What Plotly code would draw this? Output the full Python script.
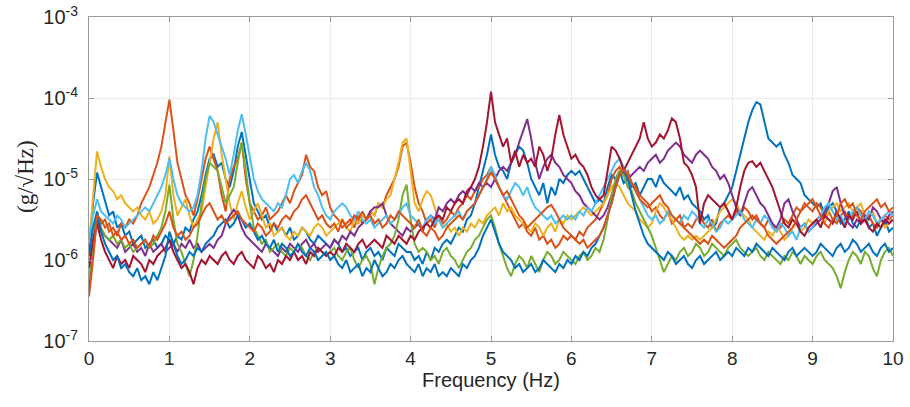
import plotly.graph_objects as go

# Sample spacing of the spectra (Hz); values are log10 of amplitude in g/sqrt(Hz)
FREQ_STEP = 0.05

blue_a_log10 = [
    -5.85, -5.3, -4.92, -5.1, -5.3, -5.45, -5.4, -5.6, -5.55, -5.7, -5.65, -5.8, -5.75, -5.7, -5.85, -5.8, -5.75, -5.85, -5.8, -5.7,
    -5.75, -5.8, -5.7, -5.75, -5.6, -5.65, -5.5, -5.4, -5.2, -4.95, -4.75, -4.7, -4.85, -4.8, -5.0, -5.1, -4.9, -4.6, -4.42, -4.7,
    -5.0, -5.3, -5.4, -5.5, -5.45, -5.6, -5.55, -5.65, -5.6, -5.7, -5.6, -5.75, -5.7, -5.6, -5.65, -5.75, -5.8, -5.7, -5.75, -5.8,
    -5.85, -5.75, -5.8, -5.9, -5.85, -5.95, -5.9, -5.85, -6.0, -5.9, -5.85, -5.95, -5.9, -6.0, -5.85, -5.9, -5.95, -5.8, -5.85, -5.9,
    -5.9, -6.0, -5.95, -6.05, -5.9, -6.0, -5.85, -5.9, -5.8, -5.75, -5.8, -5.7, -5.6, -5.65, -5.5, -5.45, -5.3, -5.1, -4.9, -4.7,
    -4.45, -4.7, -4.85, -4.9, -5.0, -4.8, -4.7, -4.6, -4.65, -4.8, -5.0, -5.1, -5.2, -5.05, -5.3, -5.1, -5.2, -5.0, -5.05, -4.95,
    -4.9, -4.95, -4.9, -5.0, -5.1, -5.2, -5.3, -5.25, -5.3, -5.1, -4.95, -5.0, -4.9, -5.05, -5.0, -5.1, -5.05, -5.2, -5.1, -5.0,
    -5.0, -5.1, -4.95, -5.05, -5.1, -5.15, -5.2, -5.1, -5.25, -5.2, -5.3, -5.35, -5.4, -5.5, -5.45, -5.6, -5.55, -5.35, -5.3, -5.2,
    -5.1, -4.9, -4.7, -4.5, -4.3, -4.15, -4.05, -4.08, -4.3, -4.5, -4.55, -4.6, -4.55, -4.7, -4.8, -4.95, -5.0, -5.05, -5.2, -5.25,
    -5.3, -5.35, -5.3, -5.45, -5.35, -5.3, -5.4, -5.55, -5.5, -5.4, -5.55, -5.6, -5.5, -5.45, -5.6, -5.55, -5.7, -5.6, -5.5, -5.65,
    -5.6,
]

orange_a_log10 = [
    -5.75, -5.6, -5.45, -5.55, -5.5, -5.65, -5.6, -5.7, -5.55, -5.6, -5.5, -5.55, -5.45, -5.3, -5.2, -5.1, -4.95, -4.8, -4.6, -4.3,
    -4.02, -4.4, -4.8, -5.0, -5.2, -5.3, -5.45, -5.25, -5.0, -4.75, -4.6, -4.75, -4.9, -5.2, -5.4, -5.0, -4.85, -4.75, -4.55, -5.0,
    -5.3, -5.4, -5.5, -5.45, -5.35, -5.5, -5.45, -5.4, -5.3, -5.2, -5.3, -5.15, -5.05, -4.95, -4.7, -4.85, -4.9, -5.1, -5.2, -5.15,
    -5.35, -5.45, -5.5, -5.6, -5.55, -5.5, -5.6, -5.45, -5.55, -5.5, -5.4, -5.45, -5.3, -5.35, -5.2, -5.1, -5.0, -4.85, -4.6, -4.55,
    -4.8, -5.1, -5.3, -5.4, -5.55, -5.5, -5.6, -5.45, -5.55, -5.5, -5.4, -5.45, -5.35, -5.3, -5.2, -5.25, -5.15, -5.1, -5.0, -4.95,
    -4.85, -5.0, -5.1, -5.2, -5.3, -5.4, -5.5, -5.6, -5.55, -5.65, -5.7, -5.6, -5.75, -5.7, -5.8, -5.75, -5.85, -5.8, -5.7, -5.75,
    -5.7, -5.75, -5.65, -5.7, -5.6, -5.55, -5.5, -5.4, -5.3, -5.2, -5.0, -4.9, -4.85, -4.95, -4.9, -5.05, -5.1, -5.2, -5.25, -5.3,
    -5.4, -5.35, -5.45, -5.5, -5.4, -5.55, -5.5, -5.45, -5.6, -5.55, -5.6, -5.5, -5.45, -5.55, -5.6, -5.5, -5.65, -5.55, -5.5, -5.45,
    -5.5, -5.4, -5.45, -5.35, -5.4, -5.5, -5.45, -5.55, -5.6, -5.5, -5.55, -5.65, -5.6, -5.5, -5.55, -5.45, -5.35, -5.4, -5.3, -5.35,
    -5.4, -5.3, -5.35, -5.45, -5.4, -5.5, -5.55, -5.45, -5.4, -5.5, -5.45, -5.35, -5.4, -5.5, -5.45, -5.55, -5.6, -5.5, -5.45, -5.5,
    -5.45,
]

yellow_log10 = [
    -5.8, -5.2, -4.66, -4.85, -5.0, -5.1, -5.15, -5.25, -5.2, -5.3, -5.35, -5.4, -5.35, -5.45, -5.5, -5.4, -5.55, -5.5, -5.4, -5.2,
    -4.72, -5.2, -5.45, -5.35, -5.25, -5.45, -5.6, -5.5, -5.4, -5.1, -4.8, -4.5, -4.3, -4.7, -5.0, -5.3, -5.5, -5.3, -5.15, -5.35,
    -5.5, -5.4, -5.3, -5.45, -5.6, -5.55, -5.7, -5.65, -5.6, -5.7, -5.75, -5.65, -5.7, -5.6, -5.65, -5.7, -5.6, -5.55, -5.6, -5.7,
    -5.65, -5.6, -5.55, -5.5, -5.6, -5.65, -5.5, -5.55, -5.45, -5.5, -5.4, -5.45, -5.3, -5.35, -5.25, -5.2, -5.0, -4.8, -4.55, -4.5,
    -4.9, -5.3, -5.4, -5.25, -5.15, -5.2, -5.35, -5.5, -5.6, -5.55, -5.65, -5.6, -5.7, -5.6, -5.65, -5.55, -5.6, -5.5, -5.55, -5.45,
    -5.4, -5.35, -5.45, -5.3, -5.4, -5.35, -5.45, -5.5, -5.55, -5.6, -5.65, -5.55, -5.6, -5.7, -5.6, -5.55, -5.65, -5.5, -5.55, -5.45,
    -5.5, -5.45, -5.4, -5.35, -5.4, -5.45, -5.4, -5.35, -5.3, -5.2, -5.1, -5.05, -5.1, -5.2, -5.3, -5.35, -5.4, -5.5, -5.55, -5.6,
    -5.55, -5.4, -5.3, -5.35, -5.45, -5.5, -5.6, -5.7, -5.75, -5.7, -5.75, -5.7, -5.75, -5.7, -5.65, -5.6, -5.5, -5.4, -5.35, -5.3,
    -5.25, -5.3, -5.4, -5.45, -5.5, -5.6, -5.65, -5.7, -5.75, -5.65, -5.7, -5.6, -5.65, -5.75, -5.7, -5.6, -5.55, -5.65, -5.6, -5.5,
    -5.55, -5.5, -5.45, -5.55, -5.4, -5.35, -5.3, -5.4, -5.35, -5.3, -5.4, -5.35, -5.3, -5.45, -5.5, -5.4, -5.55, -5.5, -5.6, -5.55,
    -5.5,
]

purple_log10 = [
    -6.35, -5.9, -5.5, -5.65, -5.7, -5.75, -5.8, -5.85, -5.75, -5.9, -5.85, -5.8, -5.9, -5.85, -5.95, -5.8, -5.9, -5.85, -5.8, -5.9,
    -5.85, -5.8, -5.9, -5.8, -5.85, -5.75, -5.85, -5.8, -5.9, -5.85, -5.8, -5.85, -5.75, -5.7, -5.55, -5.45, -5.38, -5.45, -5.6, -5.7,
    -5.75, -5.8, -5.85, -5.9, -5.8, -5.85, -5.9, -5.95, -5.85, -5.9, -5.8, -5.85, -5.9, -5.8, -5.75, -5.85, -5.8, -5.9, -5.85, -5.8,
    -5.85, -5.75, -5.8, -5.7, -5.75, -5.65, -5.7, -5.6, -5.55, -5.5, -5.4, -5.35, -5.35, -5.3, -5.45, -5.55, -5.6, -5.65, -5.7, -5.6,
    -5.65, -5.6, -5.55, -5.65, -5.5, -5.45, -5.5, -5.35, -5.4, -5.3, -5.25, -5.3, -5.2, -5.15, -5.2, -5.1, -5.15, -5.05, -5.1, -5.05,
    -5.1, -5.0, -4.9, -4.85, -4.9, -4.8, -4.7, -4.55, -4.4, -4.26, -4.5, -4.8, -5.0, -4.85, -4.75, -4.7, -4.8, -4.85, -4.95, -5.0,
    -5.05, -5.15, -5.2, -5.3, -5.35, -5.4, -5.45, -5.5, -5.45, -5.35, -5.2, -5.05, -4.95, -4.9, -5.0, -4.95, -4.9, -4.85, -4.9, -4.8,
    -4.75, -4.7, -4.8, -4.75, -4.65, -4.6, -4.55, -4.6, -4.7, -4.75, -4.8, -4.7, -4.65, -4.7, -4.75, -4.85, -4.9, -5.0, -4.95, -5.05,
    -5.2, -5.35, -5.45, -5.3, -5.15, -5.1, -5.2, -5.3, -5.35, -5.45, -5.55, -5.6, -5.5, -5.3, -5.25, -5.4, -5.5, -5.6, -5.55, -5.65,
    -5.6, -5.55, -5.5, -5.4, -5.3, -5.15, -5.1, -5.3, -5.45, -5.55, -5.6, -5.5, -5.55, -5.45, -5.5, -5.35, -5.4, -5.5, -5.55, -5.45,
    -5.4,
]

green_log10 = [
    -6.25, -5.8, -5.4, -5.6, -5.7, -5.75, -5.7, -5.8, -5.75, -5.85, -5.8, -5.9, -5.85, -5.8, -5.75, -5.85, -5.8, -5.7, -5.6, -5.4,
    -5.07, -5.5, -5.8, -5.9, -6.05, -6.2, -6.0, -5.7, -5.3, -5.0, -4.8, -4.85, -4.9, -5.1, -5.3, -5.2, -5.1, -4.8, -4.55, -4.9,
    -5.3, -5.6, -5.7, -5.8, -5.75, -5.9, -5.85, -5.8, -5.9, -5.95, -5.85, -5.9, -5.8, -5.85, -5.95, -6.0, -5.9, -5.85, -5.9, -5.95,
    -5.9, -5.85, -5.95, -6.0, -5.9, -5.85, -6.0, -6.1, -6.0, -5.95, -6.05, -6.3, -6.1, -5.95, -5.85, -5.8, -5.7, -5.5, -5.2, -5.07,
    -5.5, -5.8, -5.9, -5.85, -5.9, -6.0, -5.95, -6.05, -5.9, -5.85, -5.95, -6.0, -6.1, -6.0, -5.9, -5.85, -5.75, -5.7, -5.6, -5.5,
    -5.45, -5.6, -5.8, -5.95, -6.1, -6.2, -6.05, -5.95, -6.0, -6.1, -5.95, -6.05, -6.15, -6.0, -5.9, -5.95, -6.05, -6.0, -5.9, -5.95,
    -6.0, -6.05, -5.95, -5.9, -6.0, -5.95, -5.85, -5.9, -5.75, -5.5, -5.2, -5.0, -4.9, -4.95, -5.1, -5.15, -5.3, -5.4, -5.5, -5.6,
    -5.7, -5.85, -6.0, -6.15, -6.05, -5.95, -6.0, -5.9, -5.85, -5.95, -5.9, -5.8, -5.85, -5.95, -5.9, -5.8, -5.85, -5.9, -5.95, -5.85,
    -5.8, -5.75, -5.85, -5.9, -5.95, -5.9, -5.85, -5.95, -6.0, -5.9, -5.95, -6.0, -6.05, -5.95, -6.0, -5.9, -5.95, -6.05, -5.95, -6.0,
    -6.05, -5.95, -5.9, -6.0, -6.05, -6.1, -6.2, -6.35, -6.15, -6.0, -5.9, -5.95, -6.05, -5.9, -5.95, -6.1, -6.2, -6.0, -5.9, -5.85,
    -5.95,
]

light_blue_log10 = [
    -5.75, -5.45, -5.25, -5.4, -5.45, -5.5, -5.55, -5.45, -5.5, -5.6, -5.55, -5.5, -5.45, -5.4, -5.35, -5.4, -5.3, -5.2, -5.1, -4.95,
    -4.75, -5.0, -5.2, -5.3, -5.35, -5.4, -5.35, -5.2, -4.9, -4.5, -4.22, -4.3, -4.45, -4.6, -4.75, -4.95, -4.7, -4.4, -4.2, -4.45,
    -4.75, -5.0, -5.15, -5.25, -5.3, -5.35, -5.4, -5.3, -5.35, -5.2, -5.0, -4.95, -5.05, -4.9, -4.8, -4.9, -5.1, -5.2, -5.35, -5.45,
    -5.5, -5.4, -5.35, -5.3, -5.35, -5.45, -5.5, -5.4, -5.5, -5.55, -5.5, -5.6, -5.55, -5.5, -5.45, -5.55, -5.5, -5.45, -5.35, -5.3,
    -5.45, -5.5, -5.55, -5.6, -5.5, -5.45, -5.55, -5.5, -5.6, -5.55, -5.5, -5.45, -5.4, -5.5, -5.4, -5.35, -5.3, -5.2, -5.1, -5.0,
    -4.85, -4.95, -5.1, -5.2, -5.25, -5.15, -5.05, -5.1, -5.2, -5.1, -5.25, -5.35, -5.4, -5.45, -5.5, -5.45, -5.55, -5.5, -5.45, -5.5,
    -5.45, -5.5, -5.4, -5.45, -5.35, -5.4, -5.3, -5.2, -5.1, -5.0, -4.9, -4.8, -4.75, -4.85, -4.95, -5.05, -5.15, -5.25, -5.35, -5.45,
    -5.5, -5.45, -5.55, -5.5, -5.4, -5.45, -5.5, -5.55, -5.45, -5.5, -5.4, -5.45, -5.55, -5.6, -5.5, -5.55, -5.65, -5.6, -5.5, -5.55,
    -5.5, -5.45, -5.4, -5.5, -5.55, -5.6, -5.5, -5.55, -5.45, -5.5, -5.6, -5.65, -5.55, -5.6, -5.7, -5.65, -5.75, -5.6, -5.55, -5.65,
    -5.6, -5.5, -5.45, -5.35, -5.3, -5.4, -5.5, -5.45, -5.55, -5.5, -5.4, -5.35, -5.45, -5.5, -5.4, -5.45, -5.55, -5.5, -5.45, -5.4,
    -5.45,
]

dark_red_log10 = [
    -6.1, -5.75, -5.55, -5.75, -5.9, -6.0, -6.1, -5.95, -6.05, -6.0, -6.1, -5.95, -6.0, -6.05, -6.15, -6.0, -6.05, -5.95, -5.9, -5.85,
    -5.75, -5.9, -6.0, -6.1, -6.05, -6.15, -6.3, -6.1, -6.0, -6.05, -5.95, -6.0, -6.05, -5.95, -5.9, -6.0, -6.05, -5.95, -5.9, -6.0,
    -6.05, -6.1, -5.95, -6.0, -6.1, -6.05, -6.15, -6.0, -6.05, -5.95, -6.0, -5.9, -6.0, -5.95, -6.05, -5.9, -5.95, -5.85, -5.9, -5.95,
    -5.9, -5.95, -5.85, -5.9, -5.8, -5.85, -5.9, -5.8, -5.75, -5.85, -5.8, -5.75, -5.8, -5.85, -5.7, -5.75, -5.8, -5.7, -5.75, -5.8,
    -5.7, -5.75, -5.65, -5.6, -5.55, -5.6, -5.5, -5.45, -5.5, -5.35, -5.4, -5.3, -5.25, -5.3, -5.15, -5.1, -5.0, -4.85, -4.6, -4.3,
    -3.92, -4.3, -4.45, -4.6, -4.5, -4.8, -4.65, -4.85, -4.7, -4.8, -4.75, -4.85, -4.6, -4.7, -4.9, -4.75, -4.45, -4.21, -4.45, -4.6,
    -4.75, -4.7, -4.8, -4.85, -4.95, -5.1, -5.2, -5.25, -5.2, -4.9, -4.6, -4.65, -4.75, -4.9, -4.8, -4.7, -4.6, -4.5, -4.3, -4.5,
    -4.6, -4.55, -4.45, -4.5, -4.4, -4.25, -4.3, -4.5, -4.8, -4.85, -4.95, -5.1, -5.55, -5.3, -5.2, -5.25, -5.3, -5.35, -5.3, -5.4,
    -5.5, -5.35, -5.1, -4.9, -4.8, -4.78, -4.85, -4.8, -4.9, -5.0, -5.1, -5.25, -5.4, -5.55, -5.6, -5.5, -5.55, -5.65, -5.7, -5.6,
    -5.55, -5.5, -5.6, -5.45, -5.5, -5.55, -5.4, -5.5, -5.6, -5.45, -5.5, -5.4, -5.55, -5.5, -5.6, -5.65, -5.55, -5.6, -5.5, -5.55,
    -5.5,
]

blue_b_log10 = [
    -5.95, -5.6, -5.4, -5.65, -5.8, -5.9, -6.0, -5.95, -6.1, -6.05, -6.15, -6.2, -6.1, -6.25, -6.2, -6.3, -6.15, -6.25, -6.1, -5.95,
    -5.65, -5.8, -5.95, -6.05, -6.0, -5.9, -5.95, -5.85, -5.9, -5.8, -5.75, -5.7, -5.6, -5.55, -5.5, -5.6, -5.55, -5.45, -5.5, -5.6,
    -5.55, -5.65, -5.75, -5.7, -5.8, -5.85, -5.75, -5.9, -5.8, -5.85, -5.95, -5.9, -5.8, -5.9, -5.95, -5.85, -5.9, -6.0, -5.95, -5.9,
    -6.0, -5.95, -6.05, -6.1, -6.0, -6.15, -6.1, -6.05, -6.2, -6.1, -6.15, -6.0, -6.1, -6.2, -6.15, -6.05, -6.1, -6.0, -5.95, -6.05,
    -6.1, -6.15, -6.05, -6.2, -6.1, -6.15, -6.05, -6.2, -6.15, -6.2, -6.1, -6.15, -6.2, -6.05, -6.1, -6.0, -5.95, -5.85, -5.7, -5.6,
    -5.5, -5.65, -5.8, -5.9, -5.95, -6.0, -6.1, -6.05, -6.15, -6.1, -6.05, -6.15, -6.1, -6.0, -6.05, -6.1, -6.15, -6.05, -6.1, -6.0,
    -6.05, -5.95, -6.0, -5.9, -5.95, -5.85, -5.8, -5.7, -5.6, -5.45, -5.3, -5.1, -4.95, -4.88, -5.0, -5.2, -5.4, -5.55, -5.7, -5.8,
    -5.85, -5.9, -5.95, -6.0, -5.9, -5.95, -6.05, -6.0, -5.95, -6.05, -6.1, -6.0, -5.95, -6.05, -6.0, -5.95, -5.9, -6.0, -5.95, -5.9,
    -5.95, -5.85, -5.9, -5.95, -5.85, -5.9, -5.8, -5.85, -5.9, -5.95, -5.85, -5.9, -5.95, -6.0, -5.9, -5.85, -5.95, -5.9, -5.85, -5.9,
    -5.95, -5.9, -5.8, -5.85, -5.9, -5.95, -5.85, -5.8, -5.9, -5.85, -5.75, -5.8, -5.9, -5.85, -5.8, -5.9, -5.95, -5.85, -5.8, -5.9,
    -5.85,
]

orange_b_log10 = [
    -6.45, -6.0, -5.45, -5.5, -5.6, -5.55, -5.7, -5.65, -5.75, -5.7, -5.8, -5.75, -5.85, -5.8, -5.75, -5.85, -5.7, -5.75, -5.65, -5.55,
    -5.4, -5.6, -5.7, -5.65, -5.75, -5.7, -5.6, -5.55, -5.45, -5.35, -5.3, -5.4, -5.5, -5.45, -5.55, -5.5, -5.45, -5.4, -5.5, -5.55,
    -5.6, -5.65, -5.55, -5.6, -5.7, -5.65, -5.55, -5.6, -5.5, -5.45, -5.5, -5.4, -5.35, -5.25, -5.2, -5.3, -5.4, -5.5, -5.45, -5.55,
    -5.6, -5.55, -5.65, -5.5, -5.6, -5.55, -5.45, -5.5, -5.4, -5.5, -5.45, -5.55, -5.5, -5.6, -5.55, -5.45, -5.5, -5.4, -5.45, -5.5,
    -5.55, -5.6, -5.5, -5.65, -5.7, -5.6, -5.65, -5.75, -5.7, -5.6, -5.55, -5.5, -5.45, -5.5, -5.4, -5.35, -5.3, -5.2, -5.1, -5.0,
    -4.92, -5.0, -5.1, -5.2, -5.15, -5.25, -5.35, -5.45, -5.5, -5.6, -5.55, -5.5, -5.45, -5.4, -5.35, -5.32, -5.4, -5.5, -5.6, -5.65,
    -5.7, -5.75, -5.8, -5.75, -5.85, -5.8, -5.75, -5.7, -5.6, -5.45, -5.3, -5.1, -4.95, -4.88, -4.95, -5.05, -5.15, -5.25, -5.3, -5.35,
    -5.3, -5.25, -5.2, -5.3, -5.35, -5.45, -5.5, -5.55, -5.6, -5.65, -5.7, -5.75, -5.8, -5.75, -5.8, -5.7, -5.75, -5.8, -5.85, -5.8,
    -5.75, -5.7, -5.6, -5.55, -5.5, -5.45, -5.5, -5.55, -5.6, -5.7, -5.75, -5.8, -5.75, -5.7, -5.65, -5.6, -5.5, -5.4, -5.35, -5.3,
    -5.25, -5.35, -5.45, -5.55, -5.6, -5.5, -5.45, -5.3, -5.25, -5.35, -5.3, -5.45, -5.5, -5.4, -5.35, -5.3, -5.25, -5.35, -5.3, -5.4,
    -5.35,
]

series = [
    ("blue A", "#0072BD", blue_a_log10),
    ("orange A", "#D95319", orange_a_log10),
    ("yellow", "#EDB120", yellow_log10),
    ("purple", "#7E2F8E", purple_log10),
    ("green", "#77AC30", green_log10),
    ("light blue", "#4DBEEE", light_blue_log10),
    ("dark red", "#A2142F", dark_red_log10),
    ("blue B", "#0072BD", blue_b_log10),
    ("orange B", "#D95319", orange_b_log10),
]

x_ticks = [0, 1, 2, 3, 4, 5, 6, 7, 8, 9, 10]
y_tick_exponents = [-7, -6, -5, -4, -3]

fig = go.Figure()
for name, color, vals in series:
    freq = [round(i * FREQ_STEP, 2) for i in range(len(vals))]
    fig.add_trace(go.Scatter(
        x=freq, y=[10 ** v for v in vals], mode="lines", name=name,
        line=dict(color=color, width=2), showlegend=False, hoverinfo="skip",
    ))

axis_color = "#9a9a9a"
sans = "Liberation Sans, Arial, sans-serif"

fig.update_layout(
    width=910, height=407,
    margin=dict(l=89, r=17, t=17, b=66, autoexpand=False),
    paper_bgcolor="white", plot_bgcolor="white",
    xaxis=dict(
        range=[0, 10], tickvals=x_ticks, ticktext=[str(t) for t in x_ticks],
        showgrid=True, gridcolor="#ebebeb", gridwidth=1, zeroline=False,
        showline=True, linecolor=axis_color, linewidth=1, mirror="ticks",
        ticks="inside", ticklen=5, tickcolor=axis_color,
        tickfont=dict(family=sans, size=19, color="#262626"),
        automargin=False, ticklabeloverflow="allow",
        title=dict(text="Frequency (Hz)", font=dict(family=sans, size=20, color="#262626"), standoff=4),
    ),
    yaxis=dict(
        type="log", range=[-7, -3],
        tickvals=[10 ** e for e in y_tick_exponents],
        ticktext=["10<sup>%d</sup>" % e for e in y_tick_exponents],
        showgrid=True, gridcolor="#ebebeb", gridwidth=1, zeroline=False,
        showline=True, linecolor=axis_color, linewidth=1, mirror="ticks",
        ticks="inside", ticklen=5, tickcolor=axis_color,
        tickfont=dict(family=sans, size=20, color="#262626"),
        ticklabelstandoff=6,
        automargin=False, ticklabeloverflow="allow",
    ),
    annotations=[dict(
        text="(g/√Hz)", textangle=-90, showarrow=False,
        xref="paper", yref="paper", x=(25 - 89) / 804, y=(341 - 177) / 324,
        xanchor="center", yanchor="middle",
        font=dict(family="Liberation Serif, Times New Roman, serif", size=23, color="#262626"),
    )],
)

# Remove the browser's default 8 px body margin so the figure fills the window exactly
fig.write_html(
    "out.html",
    config={"displayModeBar": False},
    post_script="document.body.style.margin='0px';",
)
